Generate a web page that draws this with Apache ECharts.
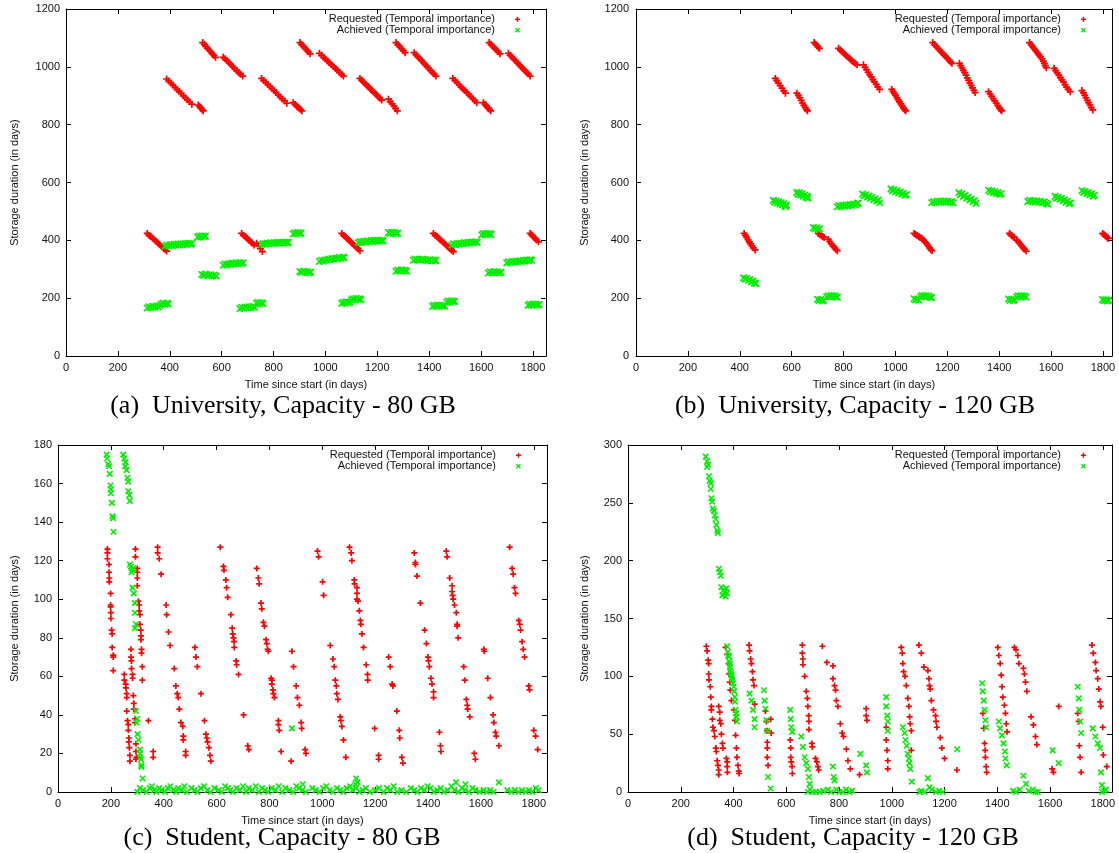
<!DOCTYPE html>
<html>
<head>
<meta charset="utf-8">
<script src="https://cdn.jsdelivr.net/npm/echarts@6/dist/echarts.min.js"></script>
<style>
  html, body { margin: 0; padding: 0; background: #ffffff; }
  #chart { width: 1119px; height: 853px; }
</style>
</head>
<body>
<div id="chart"></div>
<script>
// ---------------------------------------------------------------------------
// Data: storage duration (days) against time since start (days).
// Each list is a flat sequence of x, y pairs.
// ---------------------------------------------------------------------------

// (a) University, capacity 80 GB
const uni80Requested = [
  388,958, 396,951, 404,944, 412,937, 420,929, 428,922, 436,915, 444,908, 452,900, 460,893, 468,886, 476,879, 485,871,
  510,868, 515,863, 520,858, 525,852, 529,848,
  527,1084, 533,1078, 539,1071, 545,1065, 551,1059, 557,1053, 563,1046, 570,1040, 576,1033,
  606,1033, 613,1028, 620,1022, 628,1015, 635,1008, 643,1001, 650,994, 658,987, 666,980, 673,974, 681,968,
  754,960, 762,953, 770,946, 778,939, 786,932, 794,925, 802,918, 810,911, 818,903, 826,896, 834,889, 842,882, 851,874,
  876,876, 883,870, 890,864, 896,859, 903,853, 909,848,
  902,1084, 908,1078, 915,1071, 921,1065, 928,1058, 934,1052, 941,1045,
  977,1047, 985,1040, 993,1033, 1000,1027, 1008,1020, 1016,1014, 1023,1007, 1031,1001, 1039,994, 1046,988, 1054,981, 1062,974, 1069,968,
  1133,960, 1140,954, 1147,947, 1154,941, 1161,935, 1168,929, 1175,922, 1182,916, 1189,910, 1196,904, 1203,897, 1210,891, 1217,885,
  1243,888, 1250,880, 1257,872, 1264,864, 1270,856, 1277,848,
  1272,1084, 1279,1077, 1286,1070, 1293,1063, 1300,1056, 1307,1049,
  1342,1049, 1349,1042, 1356,1035, 1363,1029, 1370,1022, 1377,1015, 1384,1008, 1391,1002, 1398,995, 1405,988, 1412,981, 1419,975, 1426,968,
  1491,960, 1499,953, 1507,946, 1515,938, 1522,931, 1530,924, 1537,918, 1545,911, 1553,904, 1560,897, 1568,890, 1576,883, 1583,876,
  1609,876, 1615,870, 1621,864, 1627,858, 1632,853, 1637,848,
  1631,1084, 1638,1078, 1645,1071, 1652,1065, 1659,1058, 1666,1052, 1673,1045,
  1705,1047, 1712,1040, 1719,1034, 1726,1027, 1733,1021, 1740,1014, 1747,1007, 1754,1000, 1761,994, 1768,988, 1775,981, 1782,975, 1789,968,
  313,424, 320,418, 327,413, 334,407, 341,402, 348,396, 355,390, 362,385, 369,379, 376,373, 382,368, 388,363,
  677,424, 684,418, 691,413, 698,407, 705,401, 712,395, 718,390, 725,384, 735,390, 742,381, 749,371, 757,361,
  1063,424, 1070,418, 1077,412, 1084,406, 1091,400, 1098,394, 1105,388, 1112,382, 1119,376, 1126,370, 1133,364,
  1416,424, 1423,418, 1430,413, 1437,407, 1444,401, 1451,395, 1458,390, 1465,384, 1472,378, 1479,372, 1486,366, 1493,361,
  1789,424, 1795,419, 1801,413, 1808,407, 1814,401, 1821,395
];
const uni80Achieved = [
  382,380, 389,384, 396,381, 403,385, 410,382, 417,386, 424,383, 431,387, 438,384, 445,388, 452,385, 459,389, 466,386, 473,390, 480,387, 486,389,
  508,411, 514,415, 520,412, 526,416, 532,413, 538,414,
  523,282, 530,279, 537,283, 544,280, 551,278, 558,281, 565,277, 572,280, 579,276,
  606,314, 613,318, 620,315, 627,319, 634,317, 641,321, 648,318, 655,322, 662,319, 669,323, 676,320, 683,322,
  313,166, 320,170, 327,167, 334,171, 341,169, 348,173, 355,170, 362,174, 368,180, 375,183, 382,179, 389,182, 394,180,
  754,386, 761,389, 768,387, 775,390, 782,388, 789,391, 796,389, 803,392, 810,390, 817,393, 824,390, 831,393, 838,391, 845,394, 852,392, 857,393,
  876,422, 882,426, 888,423, 894,427, 900,424, 906,425,
  902,292, 909,289, 916,293, 923,290, 930,291, 937,288, 943,290,
  671,164, 678,168, 685,165, 692,169, 699,166, 706,170, 713,167, 720,171, 727,168, 735,182, 741,185, 747,181, 753,184, 759,182,
  977,327, 984,331, 991,328, 998,332, 1005,331, 1012,335, 1019,333, 1026,337, 1033,335, 1040,338, 1047,337, 1054,340, 1061,338, 1068,342, 1072,340,
  1063,182, 1069,186, 1075,183, 1081,187, 1088,184, 1095,186, 1101,194, 1107,198, 1113,195, 1119,199, 1125,196, 1131,198, 1136,195,
  1127,392, 1134,396, 1141,393, 1148,397, 1155,394, 1162,398, 1169,395, 1176,399, 1183,396, 1190,400, 1197,397, 1204,400, 1211,398, 1218,401, 1222,398,
  1243,427, 1249,423, 1255,428, 1261,424, 1267,427, 1273,423, 1279,425,
  1272,293, 1279,297, 1286,294, 1293,298, 1300,295, 1307,296, 1313,293,
  1339,331, 1346,335, 1353,332, 1360,334, 1367,331, 1374,335, 1381,332, 1388,333, 1395,330, 1402,333, 1409,329, 1416,332, 1423,329, 1426,331,
  1413,171, 1419,175, 1425,172, 1431,176, 1437,173, 1443,175, 1449,172, 1455,174, 1460,173, 1468,186, 1474,190, 1480,187, 1486,191, 1492,188, 1498,189,
  1487,384, 1494,388, 1501,385, 1508,389, 1515,387, 1522,390, 1529,388, 1536,392, 1543,389, 1550,393, 1557,391, 1564,394, 1571,392, 1578,395, 1585,393,
  1603,419, 1609,423, 1615,420, 1621,424, 1627,421, 1633,423, 1639,420,
  1628,287, 1635,291, 1642,288, 1649,292, 1656,289, 1663,290, 1670,287, 1677,290,
  1699,322, 1706,326, 1713,323, 1720,327, 1727,325, 1734,328, 1741,326, 1748,329, 1755,327, 1762,330, 1769,329, 1776,332, 1783,330, 1790,333, 1795,331,
  1782,175, 1788,179, 1794,176, 1800,180, 1806,177, 1812,179, 1818,176, 1824,178
];

// (b) University, capacity 120 GB
const uni120Requested = [
  537,960, 543,952, 549,944, 556,935, 563,926, 570,917, 576,909,
  620,909, 626,901, 632,893, 637,884, 642,875, 647,867, 652,860, 657,853, 661,848,
  687,1084, 692,1079, 697,1074, 702,1069, 707,1064,
  781,1064, 788,1058, 795,1052, 802,1046, 809,1040, 816,1035, 823,1029, 830,1023, 837,1018, 844,1012, 852,1007,
  877,1007, 883,998, 889,990, 895,981, 901,973, 907,965, 913,956, 919,948, 926,939, 932,931, 939,922,
  986,922, 991,915, 996,908, 1001,901, 1006,893, 1011,886, 1016,879, 1021,872, 1026,865, 1031,858, 1036,852, 1040,848,
  1144,1084, 1151,1077, 1158,1070, 1165,1063, 1172,1056, 1179,1050, 1186,1043, 1193,1037, 1200,1030, 1207,1023, 1213,1017, 1218,1012,
  1247,1012, 1252,1004, 1257,996, 1262,988, 1267,980, 1272,971, 1277,962, 1282,953, 1287,944, 1292,936, 1297,927, 1302,919, 1307,911,
  1359,914, 1365,906, 1371,898, 1377,890, 1383,882, 1389,874, 1395,866, 1401,858, 1406,852, 1410,848,
  1517,1084, 1523,1077, 1529,1070, 1535,1063, 1541,1056, 1547,1049, 1553,1042, 1559,1035, 1565,1028, 1570,1020, 1574,1012, 1578,1004, 1582,997,
  1612,995, 1618,987, 1624,979, 1630,971, 1636,963, 1642,955, 1648,947, 1654,938, 1660,930, 1666,922, 1674,914,
  1719,918, 1725,910, 1730,901, 1735,893, 1740,884, 1745,876, 1750,868, 1755,859, 1761,851,
  417,424, 422,417, 427,410, 432,402, 437,395, 442,388, 447,381, 452,374, 459,367,
  703,424, 709,420, 715,416, 720,413, 725,410, 741,403, 747,396, 753,388, 759,381, 765,375, 771,369, 776,364,
  1072,424, 1078,420, 1084,417, 1090,413, 1095,410, 1102,407, 1108,401, 1114,395, 1120,389, 1126,382, 1132,374, 1137,368, 1141,364,
  1440,424, 1445,419, 1450,415, 1455,412, 1458,410, 1468,401, 1474,395, 1480,389, 1486,382, 1492,375, 1498,369, 1504,363,
  1799,424, 1804,420, 1809,416, 1814,412, 1819,408, 1821,407
];
const uni120Achieved = [
  530,538, 535,532, 540,536, 545,529, 550,533, 555,526, 560,530, 565,523, 570,527, 575,519, 580,522, 578,516,
  620,566, 625,560, 630,564, 635,557, 640,561, 645,553, 650,556, 655,549, 660,552, 663,546,
  776,516, 783,520, 790,517, 797,521, 804,518, 811,522, 818,520, 825,524, 832,521, 839,525, 846,523, 853,527, 857,529,
  874,560, 880,554, 886,557, 892,550, 898,553, 904,546, 910,549, 916,541, 922,544, 928,536, 934,539, 940,530,
  983,578, 989,572, 995,575, 1001,568, 1007,571, 1013,564, 1019,567, 1025,560, 1031,562, 1037,556, 1043,558,
  1140,530, 1147,534, 1154,531, 1161,535, 1168,532, 1175,536, 1182,533, 1189,536, 1196,532, 1203,535, 1210,531, 1217,534, 1223,530,
  1245,565, 1251,558, 1257,561, 1263,552, 1269,555, 1275,546, 1281,549, 1287,540, 1293,543, 1299,534, 1305,537, 1311,528,
  1360,573, 1366,568, 1372,571, 1378,565, 1384,568, 1390,562, 1396,565, 1402,559, 1408,561,
  1511,534, 1518,538, 1525,535, 1532,537, 1539,533, 1546,536, 1553,532, 1560,535, 1567,530, 1574,533, 1581,528, 1588,525,
  1616,552, 1622,546, 1628,549, 1634,542, 1640,545, 1646,537, 1652,540, 1658,532, 1664,535, 1670,527, 1676,529,
  1720,572, 1726,566, 1732,569, 1738,562, 1744,565, 1750,558, 1756,561, 1762,553, 1768,556,
  684,444, 690,440, 696,443, 702,438, 708,440,
  415,270, 421,266, 427,268, 433,262, 439,264, 445,257, 451,259, 457,252, 463,250,
  700,196, 706,192, 712,195, 718,190, 724,193,
  735,204, 741,208, 747,205, 753,209, 759,206, 765,208, 771,204, 777,203,
  1072,198, 1078,194, 1084,197, 1090,193,
  1098,205, 1104,209, 1110,206, 1116,209, 1122,205, 1128,207, 1134,203, 1140,202,
  1436,197, 1442,193, 1448,196, 1454,192, 1459,194,
  1468,204, 1474,208, 1480,205, 1486,209, 1492,206, 1498,207, 1504,203,
  1799,195, 1805,191, 1811,194, 1817,190, 1822,193
];

// (c) Student, capacity 80 GB
const stu80Requested = [
  187,126, 187,124, 187,121, 193,118, 193,114, 194,111, 194,109,
  293,126, 293,122, 300,116, 300,114, 300,111, 300,107,
  377,127, 377,124, 383,121, 390,113,
  614,127, 626,117, 628,115, 635,110, 638,106,
  752,116, 758,111, 761,108,
  982,125, 986,122, 1001,109,
  1103,127, 1109,124, 1112,120, 1121,110, 1122,108, 1131,106,
  1348,124, 1352,119, 1352,118, 1358,112,
  1469,125, 1472,122, 1482,111, 1491,107,
  1709,127, 1718,116, 1722,113, 1727,106,
  199,103, 199,97, 199,96, 200,93, 200,90, 203,84, 205,82, 205,75, 209,71, 209,70, 209,63,
  251,61, 251,58, 256,56, 257,54, 260,51, 260,49, 260,42, 263,37, 266,35, 266,32, 268,28, 268,26, 270,23, 272,19, 272,16,
  276,74, 276,70, 278,68, 278,64, 282,61, 282,59, 285,50, 287,46, 287,43, 291,38, 291,36, 295,25, 295,21, 297,18, 295,17,
  304,99, 307,97, 307,94, 310,92, 310,87, 313,84, 314,81, 314,79, 316,74, 316,72, 319,65, 319,58, 342,37,
  360,21, 360,18, 409,97, 411,92, 418,83, 424,76, 440,64, 446,55, 451,51, 455,49, 459,43, 465,36, 472,34, 474,29, 474,27, 483,21, 483,19,
  518,75, 522,70, 527,65, 541,51, 554,37, 560,30, 563,28, 566,26, 571,23, 575,19, 578,16,
  642,101, 654,92, 659,85, 661,82, 664,80, 666,78, 667,75, 674,68, 676,66, 683,61, 702,40, 718,24, 722,22,
  768,98, 771,95, 777,88, 781,86, 787,79, 790,77, 793,74, 796,73, 806,59, 809,58, 809,56, 813,53, 815,51, 819,49, 834,37, 834,35, 837,32, 844,21,
  885,73, 891,65, 901,55, 906,49, 913,45, 920,36, 922,33, 935,22, 938,20, 882,16,
  1005,102, 1030,76, 1040,69, 1045,65, 1049,58, 1053,55, 1055,51, 1059,48, 1068,39, 1070,37, 1074,34, 1080,27, 1089,18,
  1131,103, 1131,100, 1135,99, 1140,94, 1144,89, 1146,87, 1150,82, 1156,75, 1166,66, 1171,61, 1172,58, 1198,33, 1213,19, 1213,17,
  1251,70, 1257,65, 1264,56, 1267,55, 1282,42, 1291,32, 1293,28, 1301,18, 1305,15,
  1371,98, 1387,84, 1394,77, 1400,70, 1402,68, 1405,65, 1411,59, 1415,56, 1421,52, 1421,49, 1443,31, 1447,24, 1449,21,
  1491,104, 1493,102, 1495,100, 1500,97, 1507,93, 1510,87, 1510,86, 1514,80, 1535,65, 1539,58, 1545,48, 1548,45, 1550,43, 1558,39, 1575,20, 1579,17,
  1611,74, 1613,73, 1626,59, 1636,49, 1646,40, 1649,36, 1655,31, 1658,29, 1668,24,
  1731,103, 1743,89, 1747,87, 1750,84, 1756,78, 1760,74, 1765,70, 1781,55, 1784,53, 1800,32, 1807,29, 1815,22
];
const stu80Achieved = [
  184,175, 186,173, 190,170, 193,169, 196,165, 199,159, 200,157, 200,155, 204,150, 206,143, 209,142, 210,135,
  247,175, 251,173, 256,171, 254,169, 260,167, 263,163, 266,161, 266,156, 270,154, 272,151,
  272,118, 276,117, 282,115, 278,114, 285,116, 282,106,
  287,103, 291,98, 291,93, 295,87, 291,85, 295,42, 300,38, 297,36, 301,30, 305,27, 310,22, 312,18, 315,14, 310,20, 314,17, 316,13, 320,7,
  885,33,
  300,0, 310,2, 322,1, 335,0, 347,2, 355,3, 364,1, 372,0, 383,2, 392,1, 405,0, 415,2, 425,3, 436,1, 447,0, 455,2, 468,1, 478,3, 488,0,
  505,2, 517,1, 528,0, 540,2, 553,3, 565,1, 578,0, 592,2, 608,1, 620,0, 632,3, 643,2, 652,1, 662,0, 675,2, 688,1, 700,3, 712,0, 722,2,
  735,1, 748,3, 760,0, 772,2, 783,1, 795,0, 808,2, 822,1, 835,3, 848,0, 860,2, 875,1, 890,0, 902,3, 912,2, 925,1, 938,0, 962,2, 975,1,
  990,0, 1003,2, 1015,3, 1028,1, 1040,0, 1055,2, 1068,1, 1080,0, 1092,2, 1105,3, 1115,1, 1128,2, 1140,0, 1152,1, 1165,2, 1180,0,
  1200,1, 1215,2, 1232,0, 1245,2, 1258,1, 1270,3, 1283,0, 1300,1, 1318,0, 1335,2, 1348,1, 1360,0, 1373,2, 1385,1, 1398,3, 1410,2,
  1422,0, 1435,1, 1448,2, 1460,0, 1475,1, 1488,3, 1500,1, 1515,0, 1528,2, 1540,1, 1555,0, 1568,2, 1580,1, 1595,0, 1610,1, 1622,0,
  1635,1, 1648,0, 1700,1, 1715,0, 1728,1, 1742,0, 1755,1, 1770,0, 1782,1, 1795,0, 1808,2, 1818,1,
  1128,7, 1133,5, 1125,4, 926,4, 1506,5, 1541,4, 1668,5
];

// (d) Student, capacity 120 GB
const stu120Requested = [
  297,126, 300,122, 304,114, 306,111, 306,102, 307,97, 312,91, 314,82, 316,74, 316,71, 320,63, 322,56, 326,53, 329,48, 333,38, 335,35, 338,27, 341,23, 344,19, 344,15,
  344,74, 348,69, 348,62, 352,59, 354,50, 358,42, 360,38, 373,29, 376,26, 376,22, 377,17,
  370,125, 376,119, 381,111, 383,102, 386,95, 388,88, 392,79, 402,71, 405,62, 408,49, 411,38, 413,30, 417,23, 420,18, 421,16,
  459,127, 461,122, 465,115, 468,111, 472,104, 474,97, 478,92, 480,76,
  521,70, 525,61, 527,53, 528,43, 528,38, 528,30, 531,23, 541,63, 543,51,
  615,45, 617,38, 617,30, 619,26, 622,22, 623,16,
  661,127, 661,120, 663,115, 663,110, 670,100, 676,87, 680,81, 682,74, 685,66, 686,61, 686,54, 697,42, 699,39, 711,29, 716,26, 720,22, 723,19,
  737,126, 754,112, 777,109, 777,98, 783,92, 787,88, 790,79, 796,74, 805,59, 812,51, 817,48, 828,37, 834,27, 843,20,
  878,15, 903,72, 903,66, 906,62,
  979,56, 979,45, 982,36, 985,27, 985,20,
  1036,125, 1040,120, 1042,111, 1045,104, 1050,100, 1055,92, 1061,81, 1065,74, 1068,65, 1070,59, 1074,53, 1074,36,
  1103,127, 1112,120, 1122,108, 1137,105, 1141,98, 1143,92, 1146,89, 1150,79, 1158,71, 1166,66, 1168,61, 1171,56, 1184,47, 1190,38, 1200,29,
  1247,19,
  1345,68, 1349,55, 1352,42, 1354,36, 1355,30, 1358,22, 1360,17,
  1402,125, 1406,118, 1411,111, 1415,101, 1418,91, 1421,82, 1427,75, 1431,68, 1434,59, 1437,52,
  1465,125, 1471,123, 1478,118, 1482,111, 1499,107, 1503,102, 1507,95, 1512,87, 1528,65, 1537,58, 1545,48, 1550,41,
  1608,20, 1613,17, 1633,74,
  1705,68, 1709,61, 1711,40, 1714,30, 1718,17,
  1759,127, 1764,120, 1772,112, 1775,105, 1781,98, 1785,89, 1790,78, 1793,74, 1800,56, 1802,32, 1815,22
];
const stu120Achieved = [
  295,290, 300,286, 304,283, 300,281, 307,273, 310,269, 314,267, 314,262, 316,254, 319,251, 322,245, 326,243, 329,239, 333,236, 335,231, 339,226, 341,224,
  345,193, 348,190, 352,187, 354,177, 360,174, 367,173, 373,176, 358,170, 370,169, 376,172,
  376,126, 379,121, 383,117, 386,111, 388,105, 392,101, 396,97, 401,91, 405,82, 408,71, 411,65, 413,61,
  380,118, 384,113, 387,108, 390,103, 394,99, 398,94, 403,87, 406,78, 410,68,
  461,85, 468,79, 474,71, 480,63, 480,56,
  516,88, 518,79, 521,72, 525,62, 528,53, 531,13, 541,3,
  615,71, 617,63, 619,56, 623,52,
  657,48, 663,39, 670,30, 676,25, 682,20, 686,13, 689,7, 682,0, 690,2, 701,0, 712,0, 727,0, 740,1, 758,2, 770,0,
  777,22, 780,13, 783,10, 790,2, 802,0, 815,0, 827,2, 840,0, 850,1, 881,33, 903,23, 906,17,
  979,82, 979,74, 983,66, 985,61, 985,53,
  1042,56, 1049,51, 1052,45, 1057,40, 1061,33, 1065,29, 1067,25, 1070,20, 1076,9,
  1105,0, 1112,1, 1125,0, 1137,12, 1143,4, 1152,2, 1168,0, 1180,1, 1194,0,
  1248,37,
  1343,94, 1345,87, 1349,79, 1352,71, 1355,62, 1358,56,
  1406,61, 1411,55, 1418,49, 1424,42, 1429,35, 1431,29, 1436,23,
  1460,1, 1471,0, 1485,2, 1499,14, 1509,7, 1520,1, 1535,2, 1545,0, 1554,0,
  1610,36, 1633,25,
  1705,91, 1709,81, 1711,71, 1714,61, 1718,51,
  1762,55, 1772,48, 1781,42, 1790,38, 1793,17, 1797,6, 1812,2, 1797,0, 1805,1
];

const seriesNames = ['Requested (Temporal importance)', 'Achieved (Temporal importance)'];
const xTitle = 'Time since start (in days)';
const yTitle = 'Storage duration (in days)';
const captions = [
  '(a)\u2002University, Capacity - 80 GB',
  '(b)\u2002University, Capacity - 120 GB',
  '(c)\u2002Student, Capacity - 80 GB',
  '(d)\u2002Student, Capacity - 120 GB'
];

// ---------------------------------------------------------------------------
// Layout and styling
// ---------------------------------------------------------------------------
const SANS = '"Liberation Sans", Arial, Helvetica, sans-serif';
const SERIF = '"Liberation Serif", "Times New Roman", serif';
const RED = '#ff0000';
const GREEN = '#00ee00';
const PLUS = 'path://M0,5L10,5M5,0L5,10';
const CROSS = 'path://M0,0L10,10M10,0L0,10';

const panels = [
  { req: uni80Requested,  ach: uni80Achieved,  left: 66,  top: 9,   width: 480, height: 347, xMax: 1850, yMax: 1200, yStep: 200, yLabelGap: 6, capX: 283, capY: 406, yTitleX: 15,  plus: 7, cross: 6.5 },
  { req: uni120Requested, ach: uni120Achieved, left: 636, top: 9,   width: 476, height: 347, xMax: 1835, yMax: 1200, yStep: 200, yLabelGap: 7, capX: 855, capY: 406, yTitleX: 585, plus: 7, cross: 6.5 },
  { req: stu80Requested,  ach: stu80Achieved,  left: 58,  top: 445, width: 489, height: 347, xMax: 1850, yMax: 180,  yStep: 20,  yLabelGap: 6, capX: 282, capY: 838, yTitleX: 15,  plus: 6, cross: 5.5 },
  { req: stu120Requested, ach: stu120Achieved, left: 628, top: 445, width: 484, height: 347, xMax: 1835, yMax: 300,  yStep: 50,  yLabelGap: 6, capX: 853, capY: 838, yTitleX: 585, plus: 6, cross: 5.5 }
];

function toPoints(flat) {
  const out = [];
  for (let i = 0; i < flat.length; i += 2) out.push([flat[i], flat[i + 1]]);
  return out;
}

const axisLine = { show: true, onZero: false, lineStyle: { color: '#000', width: 1 } };
const axisTick = { show: true, inside: true, length: 5, lineStyle: { color: '#000', width: 1 } };
const labelFont = { fontSize: 11, fontFamily: SANS, color: '#111' };

const grid = [], xAxis = [], yAxis = [], series = [], graphic = [];

panels.forEach((p, i) => {
  grid.push({ left: p.left, top: p.top, width: p.width, height: p.height, containLabel: false, outerBoundsMode: 'none' });

  const xCommon = { type: 'value', gridIndex: i, min: 0, max: p.xMax, interval: 200, axisLine, axisTick, splitLine: { show: false } };
  xAxis.push(Object.assign({}, xCommon, {
    position: 'bottom',
    axisLabel: Object.assign({ margin: 6, showMaxLabel: false, formatter: v => (v % 200 === 0 ? String(v) : '') }, labelFont)
  }));
  xAxis.push(Object.assign({}, xCommon, { position: 'top', axisLabel: { show: false } }));

  const yCommon = { type: 'value', gridIndex: i, min: 0, max: p.yMax, interval: p.yStep, axisLine, axisTick, splitLine: { show: false } };
  yAxis.push(Object.assign({}, yCommon, {
    position: 'left',
    axisLabel: Object.assign({ margin: p.yLabelGap, formatter: v => String(v) }, labelFont)
  }));
  yAxis.push(Object.assign({}, yCommon, { position: 'right', axisLabel: { show: false } }));

  series.push({
    name: seriesNames[0], type: 'scatter', xAxisIndex: 2 * i, yAxisIndex: 2 * i,
    data: toPoints(p.req), symbol: PLUS, symbolSize: p.plus, silent: true,
    itemStyle: { color: 'rgba(0,0,0,0)', borderColor: RED, borderWidth: 1.7, opacity: 1 }
  });
  series.push({
    name: seriesNames[1], type: 'scatter', xAxisIndex: 2 * i, yAxisIndex: 2 * i,
    data: toPoints(p.ach), symbol: CROSS, symbolSize: p.cross, silent: true,
    itemStyle: { color: 'rgba(0,0,0,0)', borderColor: GREEN, borderWidth: 1.6, opacity: 1 }
  });

  const cx = p.left + p.width / 2;
  const right = p.left + p.width;

  // axis titles
  graphic.push({
    type: 'text', x: p.yTitleX, y: p.top + p.height / 2, rotation: Math.PI / 2, silent: true,
    style: { text: yTitle, font: '11px ' + SANS, fill: '#111', align: 'center', verticalAlign: 'middle', textAlign: 'center', textVerticalAlign: 'middle' }
  });
  graphic.push({
    type: 'text', x: cx, y: p.top + p.height + 29, silent: true,
    style: { text: xTitle, font: '11px ' + SANS, fill: '#111', align: 'center', verticalAlign: 'middle', textAlign: 'center', textVerticalAlign: 'middle' }
  });
  // sub-figure caption
  graphic.push({
    type: 'text', x: p.capX, y: p.capY, silent: true,
    style: { text: captions[i], font: '26px ' + SERIF, fill: '#000', align: 'center', verticalAlign: 'middle', textAlign: 'center', textVerticalAlign: 'middle' }
  });

  // key, top right inside the plot
  const keyTextX = right - 51;
  const keyMarkX = right - 28.5;
  const keyY = [p.top + 10.3, p.top + 21.3];
  seriesNames.forEach((name, k) => {
    graphic.push({
      type: 'text', x: keyTextX, y: keyY[k], silent: true,
      style: { text: name, font: '11px ' + SANS, fill: '#111', align: 'right', verticalAlign: 'middle', textAlign: 'right', textVerticalAlign: 'middle' }
    });
  });
  const h = 2.5;
  graphic.push({ type: 'line', silent: true, shape: { x1: keyMarkX - h, y1: keyY[0], x2: keyMarkX + h, y2: keyY[0] }, style: { stroke: RED, lineWidth: 1.4 } });
  graphic.push({ type: 'line', silent: true, shape: { x1: keyMarkX, y1: keyY[0] - h, x2: keyMarkX, y2: keyY[0] + h }, style: { stroke: RED, lineWidth: 1.4 } });
  graphic.push({ type: 'line', silent: true, shape: { x1: keyMarkX - 2, y1: keyY[1] - 2, x2: keyMarkX + 2, y2: keyY[1] + 2 }, style: { stroke: GREEN, lineWidth: 1.4 } });
  graphic.push({ type: 'line', silent: true, shape: { x1: keyMarkX + 2, y1: keyY[1] - 2, x2: keyMarkX - 2, y2: keyY[1] + 2 }, style: { stroke: GREEN, lineWidth: 1.4 } });
});

const chart = echarts.init(document.getElementById('chart'), null, { renderer: 'canvas' });
chart.setOption({
  backgroundColor: '#ffffff',
  animation: false,
  grid, xAxis, yAxis, series, graphic
});
</script>
</body>
</html>
